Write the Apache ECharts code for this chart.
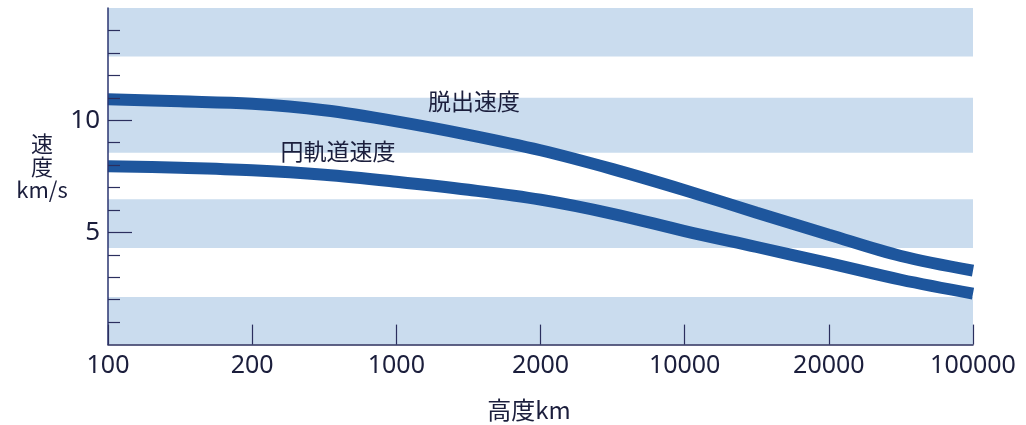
<!DOCTYPE html>
<html>
<head>
<meta charset="utf-8">
<script src="https://cdn.jsdelivr.net/npm/echarts@6/dist/echarts.min.js"></script>
<style>
  html, body { margin: 0; padding: 0; background: #ffffff; }
  #chart { width: 1026px; height: 425px; }
</style>
</head>
<body>
<div id="chart"></div>
<script>
// Category tick labels on the altitude axis (evenly spaced)
const xTickLabels = ['100', '200', '1000', '2000', '10000', '20000', '100000'];
// Positions (in tick index units) where curve values were read
const xPositions = [0, 0.5, 1, 1.5, 2, 2.5, 3, 3.5, 4, 4.5, 5, 5.5, 6];
// 脱出速度 (escape velocity), km/s
const escapeVelocity = [10.93, 10.84, 10.73, 10.44, 9.95, 9.35, 8.66, 7.82, 6.88, 5.88, 4.90, 3.95, 3.30];
// 円軌道速度 (circular orbit velocity), km/s
const orbitalVelocity = [7.95, 7.88, 7.77, 7.57, 7.26, 6.90, 6.46, 5.83, 5.06, 4.35, 3.63, 2.89, 2.27];
// Background stripes (y ranges, km/s)
const bandRanges = [[0, 2.12], [4.3, 6.48], [8.55, 11.0], [12.84, 15]];
// Labelled (long) y ticks and short y ticks
const yMajorTicks = [5, 10];
const yMinorTicks = [1, 2, 3, 4, 6, 7, 8, 9, 11, 12, 13, 14];

const chart = echarts.init(document.getElementById('chart'), null, { renderer: 'canvas' });

const toPairs = (vals) => vals.map((v, i) => [xPositions[i], v]);
const textColor = '#1b1e3c';
const lineColor = '#1e569d';
const tickColor = '#2b2f5e';

const option = {
  animation: false,
  backgroundColor: '#ffffff',
  grid: { left: 108, right: 53, top: 8, bottom: 80.4 },
  xAxis: {
    type: 'value',
    min: 0,
    max: xTickLabels.length - 1,
    interval: 1,
    z: 10,
    splitLine: { show: false },
    axisLine: { show: true, lineStyle: { color: tickColor, width: 1.5 } },
    axisTick: { show: true, inside: true, length: 20, lineStyle: { color: tickColor, width: 1.2 } },
    axisLabel: {
      margin: 9,
      color: textColor,
      fontSize: 25,
      fontFamily: 'Noto Sans',
      formatter: (v) => xTickLabels[Math.round(v)] ?? ''
    }
  },
  yAxis: [
    {
      type: 'value',
      min: 0,
      max: 15,
      interval: 1,
      z: 10,
      splitLine: { show: false },
      axisLine: { show: true, lineStyle: { color: '#2a3570', width: 1.5 } },
      axisTick: { show: true, inside: true, length: 12, customValues: yMinorTicks,
                  lineStyle: { color: tickColor, width: 1.2 } },
      axisLabel: {
        margin: 8,
        color: textColor,
        fontSize: 26,
        fontFamily: 'Noto Sans',
        customValues: yMajorTicks,
        formatter: (v) => yMajorTicks.includes(v) ? String(v) : ''
      }
    },
    {
      type: 'value',
      position: 'left',
      min: 0,
      max: 15,
      interval: 5,
      z: 10,
      splitLine: { show: false },
      axisLine: { show: false },
      axisTick: { show: true, inside: true, length: 24, customValues: yMajorTicks,
                  lineStyle: { color: tickColor, width: 1.2 } },
      axisLabel: { show: false }
    }
  ],
  series: [
    {
      type: 'line',
      name: 'bands',
      data: [],
      z: 1,
      silent: true,
      markArea: {
        silent: true,
        itemStyle: { color: '#cadcee' },
        data: bandRanges.map(r => [{ yAxis: r[0] }, { yAxis: r[1] }])
      }
    },
    {
      type: 'line',
      name: '脱出速度',
      data: toPairs(escapeVelocity),
      smooth: 0.35,
      showSymbol: false,
      z: 3,
      lineStyle: { color: lineColor, width: 12, cap: 'butt' }
    },
    {
      type: 'line',
      name: '円軌道速度',
      data: toPairs(orbitalVelocity),
      smooth: 0.35,
      showSymbol: false,
      z: 3,
      lineStyle: { color: lineColor, width: 12, cap: 'butt' }
    }
  ],
  graphic: [
    {
      type: 'text',
      style: {
        text: '速\n度\nkm/s', x: 42, y: 167, align: 'center', verticalAlign: 'middle',
        fontSize: 22, lineHeight: 23, fill: textColor,
        fontFamily: '"Noto Sans CJK JP", "Noto Sans", sans-serif'
      }
    },
    {
      type: 'text',
      style: {
        text: '高度km', x: 529, y: 410, align: 'center', verticalAlign: 'middle',
        fontSize: 24, fill: textColor,
        fontFamily: '"Noto Sans CJK JP", "Noto Sans", sans-serif'
      }
    },
    {
      type: 'text', z: 10,
      style: {
        text: '脱出速度', x: 474, y: 101, align: 'center', verticalAlign: 'middle',
        fontSize: 23, fill: textColor,
        fontFamily: '"Noto Sans CJK JP", sans-serif'
      }
    },
    {
      type: 'text', z: 10,
      style: {
        text: '円軌道速度', x: 338, y: 151, align: 'center', verticalAlign: 'middle',
        fontSize: 23, fill: textColor,
        fontFamily: '"Noto Sans CJK JP", sans-serif'
      }
    }
  ]
};

chart.setOption(option);
</script>
</body>
</html>
